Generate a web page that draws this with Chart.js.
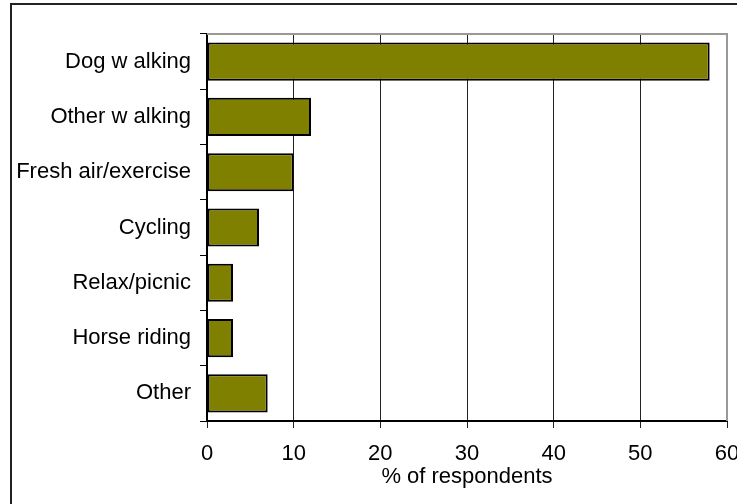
<!DOCTYPE html>
<html>
<head>
<meta charset="utf-8">
<script src="https://cdn.jsdelivr.net/npm/chart.js@4/dist/chart.umd.min.js"></script>
<style>
  html, body { margin: 0; padding: 0; background: #fff; }
  #wrap { position: relative; width: 737px; height: 504px; overflow: hidden; }
  #frame { position: absolute; left: 10px; top: 3px; width: 760px; height: 560px; border: 2px solid #222; box-sizing: border-box; }
  #chart { position: absolute; left: 0; top: 0; }
</style>
</head>
<body>
<div id="wrap">
  <div id="frame"></div>
  <canvas id="chart" width="737" height="504"></canvas>
</div>
<script>
const categories = ['Dog w alking', 'Other w alking', 'Fresh air/exercise', 'Cycling', 'Relax/picnic', 'Horse riding', 'Other'];
const respondents = [58, 12, 10, 6, 3, 3, 7];
const xTicks = [0, 10, 20, 30, 40, 50, 60];
const xTitle = '% of respondents';

const font = { family: '"Liberation Sans", Arial, sans-serif', size: 22 };

// gray frame on top and right of the plot area
const plotFrame = {
  id: 'plotFrame',
  afterDraw(chart) {
    const { ctx, chartArea: a } = chart;
    ctx.save();
    ctx.strokeStyle = '#999';
    ctx.lineWidth = 2;
    ctx.beginPath();
    ctx.moveTo(a.left, a.top);
    ctx.lineTo(a.right, a.top);
    ctx.lineTo(a.right, a.bottom);
    ctx.stroke();
    ctx.restore();
  }
};

new Chart(document.getElementById('chart'), {
  type: 'bar',
  data: {
    labels: categories,
    datasets: [{
      data: respondents,
      backgroundColor: '#808000',
      borderColor: '#000',
      borderWidth: 2,
      borderSkipped: false,
      barPercentage: 0.69,
      categoryPercentage: 1
    }]
  },
  options: {
    indexAxis: 'y',
    responsive: false,
    animation: false,
    layout: { padding: { top: 34, right: 10, left: 0, bottom: 14 } },
    plugins: { legend: { display: false }, tooltip: { enabled: false } },
    scales: {
      x: {
        min: 0,
        max: 60,
        afterBuildTicks: scale => { scale.ticks = xTicks.map(v => ({ value: v })); },
        afterFit: scale => { scale.height = 69; scale.paddingRight = 0; },
        grid: { color: '#222', lineWidth: 1, tickLength: 7, drawTicks: true },
        border: { color: '#000', width: 2 },
        ticks: { color: '#000', font, padding: 13, maxRotation: 0 },
        title: { display: true, text: xTitle, color: '#000', font, padding: { top: 0, bottom: 0 } }
      },
      y: {
        afterFit: scale => { scale.width = 207; },
        grid: { drawOnChartArea: false, offset: true, color: '#000', tickLength: 7 },
        border: { color: '#000', width: 2 },
        ticks: { color: '#000', font, padding: 9 }
      }
    }
  },
  plugins: [plotFrame]
});
</script>
</body>
</html>
